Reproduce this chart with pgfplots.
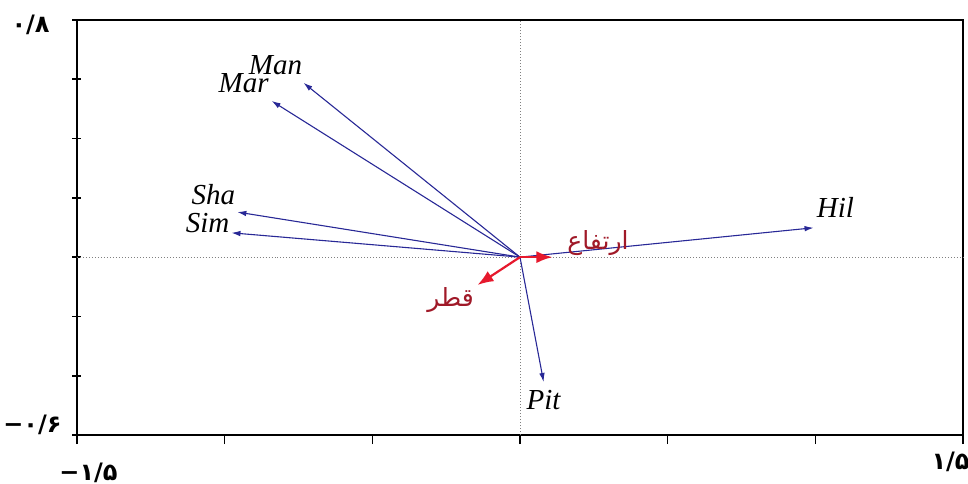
\documentclass[border=0pt]{standalone}
\usepackage{fontspec}
\setmainfont{Liberation Serif}
\newfontfamily\arabicfont[Script=Arabic]{DejaVu Sans}
\newfontfamily\digitfont{DejaVu Sans Bold}
\TeXXeTstate=1
\usepackage{pgfplots}
\pgfplotsset{compat=1.18}
\usetikzlibrary{arrows.meta}
\definecolor{navyarrow}{RGB}{40,40,150}
\definecolor{redarrow}{RGB}{230,25,45}
\definecolor{darkredtext}{RGB}{160,25,40}
\tikzset{
  varlabel/.style={font=\fontsize{14.5bp}{17bp}\selectfont\itshape, inner sep=0pt},
  arlabel/.style={text=darkredtext, font=\fontsize{12.5bp}{14bp}\selectfont\arabicfont, inner sep=0pt},
  ticklab/.style={font=\fontsize{12bp}{14bp}\selectfont\digitfont, inner sep=0pt},
}
\begin{document}
\begin{tikzpicture}
\begin{axis}[
  scale only axis,
  width=443bp, height=207.5bp,
  xmin=-1.5, xmax=1.5, ymin=-0.6, ymax=0.8,
  xtick={-1.5,-1,-0.5,0,0.5,1,1.5},
  ytick={-0.6,-0.4,-0.2,0,0.2,0.4,0.6,0.8},
  xticklabels={}, yticklabels={},
  tick pos=left,
  xtick align=outside,
  ytick align=center,
  major tick length=4.5bp,
  axis line style={line width=1bp},
  tick style={line width=0.8bp, black},
  clip=false,
]
% dotted reference lines
\addplot[gray, densely dotted, line width=0.5bp] coordinates {(-1.5,0) (1.5,0)};
\addplot[gray, densely dotted, line width=0.5bp] coordinates {(0,-0.6) (0,0.8)};
% blue vectors
\addplot[navyarrow, line width=0.55bp, -{Latex[length=4.5bp,width=2.8bp]}] coordinates {(0,0) (-0.733,0.588)};
\addplot[navyarrow, line width=0.55bp, -{Latex[length=4.5bp,width=2.8bp]}] coordinates {(0,0) (-0.841,0.527)};
\addplot[navyarrow, line width=0.55bp, -{Latex[length=4.5bp,width=2.8bp]}] coordinates {(0,0) (-0.957,0.152)};
\addplot[navyarrow, line width=0.55bp, -{Latex[length=4.5bp,width=2.8bp]}] coordinates {(0,0) (-0.977,0.082)};
\addplot[navyarrow, line width=0.55bp, -{Latex[length=4.5bp,width=2.8bp]}] coordinates {(0,0) (0.994,0.099)};
\addplot[navyarrow, line width=0.55bp, -{Latex[length=4.5bp,width=2.8bp]}] coordinates {(0,0) (0.080,-0.421)};
% red vectors
\addplot[redarrow, line width=1.1bp, -{Latex[length=8bp,width=6bp]}] coordinates {(0,0) (0.110,0)};
\addplot[redarrow, line width=1.1bp, -{Latex[length=8bp,width=6bp]}] coordinates {(0,0) (-0.144,-0.094)};
% labels
\node[varlabel] at (axis cs:-0.828,0.648) {Man};
\node[varlabel] at (axis cs:-0.936,0.588) {Mar};
\node[varlabel] at (axis cs:-1.038,0.210) {Sha};
\node[varlabel] at (axis cs:-1.058,0.115) {Sim};
\node[varlabel] at (axis cs:1.068,0.166) {Hil};
\node[varlabel] at (axis cs:0.080,-0.482) {Pit};
\node[arlabel] at (axis cs:0.264,0.048) {\beginR ارتفاع\endR};
\node[arlabel] at (axis cs:-0.235,-0.144) {\beginR قطر\endR};
% tick labels (Persian digits)
\node[ticklab] at (axis cs:-1.657,0.783) {۰/۸};
\node[ticklab] at (axis cs:-1.651,-0.566) {−۰/۶};
\node[ticklab] at (axis cs:-1.461,-0.728) {−۱/۵};
\node[ticklab] at (axis cs:1.458,-0.691) {۱/۵};
\end{axis}
\pgfresetboundingbox
\path (-38.5bp,-24.5bp) rectangle (445.5bp,217.5bp);
\end{tikzpicture}
\end{document}
